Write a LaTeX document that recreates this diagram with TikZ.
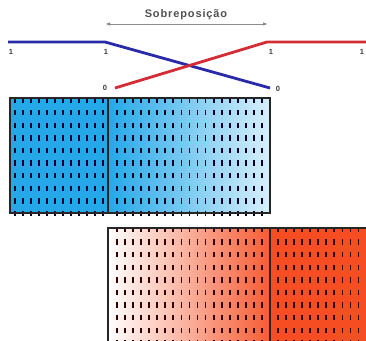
\documentclass[tikz,border=0pt]{standalone}
\usepackage{fontspec}
\setmainfont{Liberation Sans}
\usetikzlibrary{arrows.meta}
\definecolor{lineblue}{RGB}{40,42,168}
\definecolor{linered}{RGB}{212,44,52}
\definecolor{boxblue}{RGB}{36,168,232}
\definecolor{boxred}{RGB}{246,78,34}
\definecolor{labelgray}{RGB}{60,60,60}
\begin{document}
\begin{tikzpicture}[x=1pt,y=-1pt,
  curve/.style={line width=2.8pt},
  digit/.style={font=\fontsize{7.5}{8}\selectfont\bfseries, text=labelgray, inner sep=0pt},
  frame/.style={draw=black!85, line width=1.1pt},
  divider/.style={draw=black!85, line width=1.6pt},
  dashmark/.style={draw=black!85!blue, line width=1.8pt},
  rdashmark/.style={draw=black!80!red, line width=1.8pt}]
\useasboundingbox (0,0) rectangle (366,340);

% --- membership curves ---
\coordinate (b0) at (8,42);
\coordinate (b1) at (105,42);
\coordinate (b2) at (270,88);
\coordinate (r0) at (115,88);
\coordinate (r1) at (267,42);
\coordinate (r2) at (367,42);
\draw[curve, lineblue] (b0) -- (b1) -- (b2);
\draw[curve, linered] (r0) -- (r1) -- (r2);

\node[digit] (one1) at (11,52) {1};
\node[digit] (one2) at (106,52) {1};
\node[digit] (one3) at (271,52) {1};
\node[digit] (one4) at (362,52) {1};
\node[digit] (zero1) at (105,88) {0};
\node[digit] (zero2) at (278,89) {0};

% --- overlap span ---
\node[font=\fontsize{11}{12}\selectfont\bfseries\addfontfeature{LetterSpace=8}, text=labelgray!90, inner sep=0pt] (title) at (186,15) {Sobreposição};
\coordinate (sl) at (106,24);
\coordinate (sr) at (267,24);
\draw[black!45, line width=0.6pt, {Triangle[length=4pt,width=3pt,fill=black!80]}-{Triangle[length=4pt,width=3pt,fill=black!80]}] (sl) -- (sr);

% --- blue block ---
\fill[boxblue] (10,98) rectangle (108,213);
\shade[left color=boxblue, right color=boxblue!18] (108,98) rectangle (270,213);
\foreach \i in {0,...,9} {
  \foreach \j in {0,...,11}
    \draw[dashmark] ({15+8*\j},{100+12.6*\i-2.7}) -- ++(0,5.4);
  \foreach \j in {0,...,18}
    \draw[dashmark] ({117+8.05*\j},{100+12.6*\i-2.7}) -- ++(0,5.4);
}
\draw[frame] (10,98) rectangle (270,213);
\draw[divider] (108,98) -- (108,213);

% --- red block ---
\begin{scope}
\clip (0,0) rectangle (366,340);
\shade[left color=white, right color=boxred!92] (108,228) rectangle (270,345);
\fill[boxred] (270,228) rectangle (370,345);
\foreach \i in {0,...,9} {
  \foreach \j in {0,...,18}
    \draw[rdashmark] ({117+8.05*\j},{229.5+12.6*\i-2.7}) -- ++(0,5.4);
  \foreach \j in {0,...,11}
    \draw[rdashmark] ({278+8.05*\j},{229.5+12.6*\i-2.7}) -- ++(0,5.4);
}
\draw[frame] (108,345) -- (108,228) -- (370,228);
\draw[divider] (270,228) -- (270,345);
\end{scope}
\end{tikzpicture}
\end{document}
